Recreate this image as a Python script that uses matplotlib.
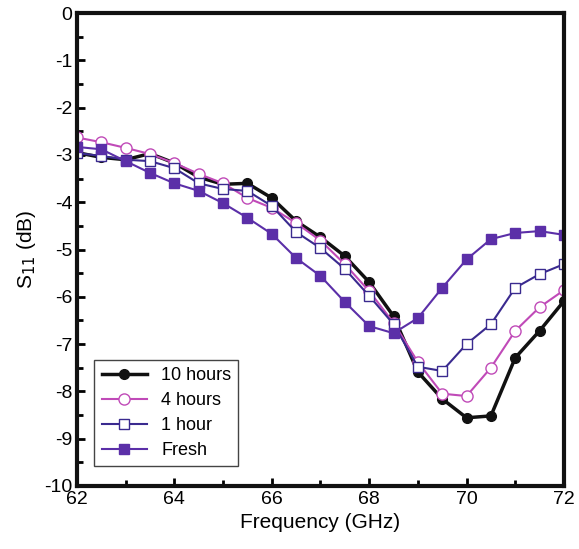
import numpy as np
import matplotlib.pyplot as plt
from matplotlib.ticker import MultipleLocator

freq = np.arange(62, 72.01, 0.5)

s11_10h = [-2.95, -3.05, -3.1, -2.97, -3.17, -3.47, -3.62, -3.6, -3.91, -4.4, -4.74,
           -5.14, -5.69, -6.41, -7.59, -8.16, -8.56, -8.52, -7.29, -6.72, -6.09]
s11_4h = [-2.63, -2.73, -2.85, -2.98, -3.17, -3.4, -3.6, -3.91, -4.12, -4.44, -4.81,
          -5.31, -5.88, -6.55, -7.38, -8.05, -8.1, -7.5, -6.72, -6.22, -5.86]
s11_1h = [-2.96, -3.02, -3.1, -3.13, -3.28, -3.6, -3.72, -3.76, -4.08, -4.63, -4.97,
          -5.41, -5.98, -6.58, -7.48, -7.57, -7.0, -6.58, -5.81, -5.52, -5.31]
s11_fresh = [-2.83, -2.88, -3.13, -3.38, -3.6, -3.76, -4.02, -4.33, -4.67, -5.18, -5.56,
             -6.11, -6.62, -6.77, -6.45, -5.81, -5.21, -4.78, -4.65, -4.61, -4.69]

plt.rcParams['font.family'] = 'Liberation Sans'
plt.rcParams['axes.unicode_minus'] = False

fig = plt.figure(figsize=(5.79, 5.49), dpi=100)
ax = fig.add_axes([0.133, 0.115, 0.841, 0.861])

ax.plot(freq, s11_10h, '-o', color='#111111', lw=2.5, ms=7, mfc='#111111', label='10 hours')
ax.plot(freq, s11_4h, '-o', color='#c04ab8', lw=1.5, ms=8, mfc='white', label='4 hours')
ax.plot(freq, s11_1h, '-s', color='#3a2a8f', lw=1.5, ms=7, mfc='white', label='1 hour')
ax.plot(freq, s11_fresh, '-s', color='#5b2fa8', lw=1.5, ms=7, mfc='#5b2fa8', label='Fresh')

ax.set_xlim(62, 72)
ax.set_ylim(-10, 0)
ax.xaxis.set_major_locator(MultipleLocator(2))
ax.xaxis.set_minor_locator(MultipleLocator(1))
ax.yaxis.set_major_locator(MultipleLocator(1))
ax.yaxis.set_minor_locator(MultipleLocator(0.5))
ax.tick_params(which='both', direction='in', width=2, labelsize=14, top=False, right=False)
ax.tick_params(which='major', length=6)
ax.tick_params(which='minor', length=4)
for sp in ax.spines.values():
    sp.set_linewidth(3)
    sp.set_color('#111111')

ax.set_xlabel('Frequency (GHz)', fontsize=15)
ax.set_ylabel('S$_{11}$ (dB)', fontsize=15)

leg = ax.legend(loc='lower left', bbox_to_anchor=(0.017, 0.022), fontsize=13,
                fancybox=False, edgecolor='#444444', framealpha=1, borderpad=0.4,
                handlelength=2.5, labelspacing=0.45)
leg.get_frame().set_linewidth(1)

fig.savefig('out.png', dpi=100)
